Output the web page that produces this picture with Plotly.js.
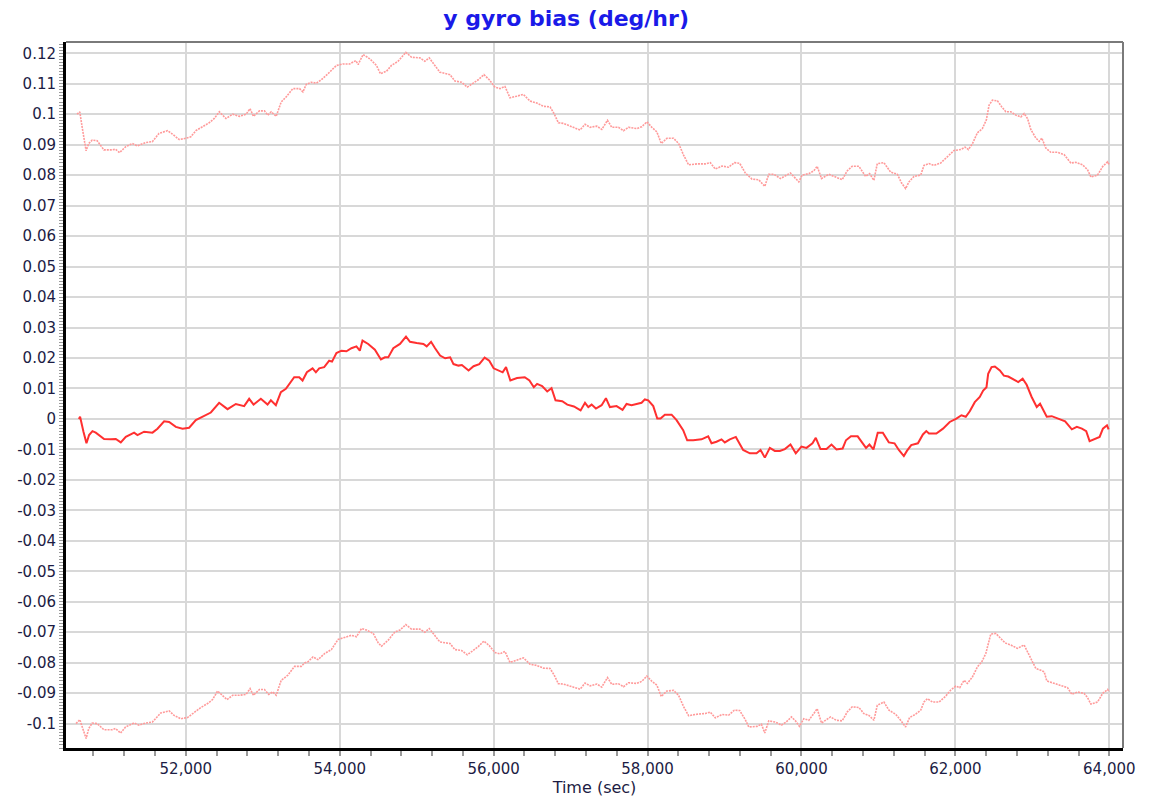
<!DOCTYPE html>
<html>
<head>
<meta charset="utf-8">
<script src="https://cdn.plot.ly/plotly-3.0.1.min.js"></script>
<style>html,body{margin:0;padding:0;background:#fff;}#chart{width:1149px;height:804px;}</style>
</head>
<body>
<div id="chart"></div>
<script>
// Time axis (sec) and bias values (deg/hr)
const midTime = [50610,50626,50670,50709,50743,50787,50830,50873,50938,51025,51090,51155,51220,51328,51372,51458,51567,51632,51718,51783,51870,51957,52043,52130,52238,52325,52433,52542,52650,52758,52823,52880,52975,53062,53105,53170,53235,53300,53408,53473,53517,53573,53647,53690,53733,53798,53863,53900,53957,54022,54087,54152,54217,54261,54296,54370,54457,54535,54587,54630,54696,54783,54861,54913,55000,55087,55130,55187,55239,55304,55370,55435,55478,55543,55587,55674,55739,55813,55883,55943,56000,56065,56117,56161,56217,56304,56404,56465,56522,56565,56630,56696,56752,56804,56891,56957,57043,57130,57187,57230,57273,57329,57403,57459,57511,57597,57675,57727,57792,57857,57922,57965,58009,58074,58126,58169,58225,58312,58377,58463,58515,58593,58701,58788,58831,58896,58961,59004,59069,59147,59199,59242,59329,59416,59468,59524,59589,59654,59719,59784,59857,59926,60000,60065,60143,60186,60247,60325,60390,60455,60535,60578,60643,60730,60796,60839,60883,60935,60991,61057,61135,61209,61265,61330,61370,61426,61513,61578,61622,61657,61752,61839,61926,62013,62078,62135,62187,62252,62317,62361,62404,62426,62470,62513,62578,62630,62687,62752,62817,62874,62926,62991,63057,63100,63143,63187,63252,63339,63426,63513,63578,63644,63700,63744,63817,63874,63917,63970,63991];
const midBias = [0.000,0.0007,-0.0042,-0.008,-0.0053,-0.004,-0.0045,-0.0053,-0.0066,-0.0067,-0.0066,-0.0077,-0.0059,-0.0045,-0.0053,-0.0042,-0.0045,-0.0032,-0.0008,-0.001,-0.0026,-0.0032,-0.0029,-0.0004,0.001,0.0021,0.0053,0.0032,0.0049,0.0042,0.0066,0.0047,0.0066,0.0047,0.0061,0.0045,0.0088,0.0099,0.0137,0.0137,0.0126,0.0153,0.0166,0.0153,0.0166,0.017,0.0191,0.0188,0.0216,0.0224,0.0222,0.0232,0.0238,0.0224,0.0257,0.0246,0.0227,0.0195,0.0202,0.0202,0.0232,0.0246,0.027,0.0253,0.0249,0.0246,0.0238,0.0253,0.0232,0.0208,0.0199,0.0202,0.018,0.0175,0.0177,0.0159,0.0173,0.018,0.0201,0.0191,0.0166,0.0159,0.0153,0.017,0.0126,0.0134,0.0137,0.0126,0.0104,0.0115,0.0108,0.009,0.0101,0.0061,0.0058,0.0047,0.0041,0.0028,0.0053,0.0039,0.0047,0.0034,0.0045,0.0068,0.0039,0.0042,0.003,0.0049,0.0045,0.0049,0.0053,0.0064,0.0061,0.0042,0.0001,0.0001,0.0014,0.0014,-0.0004,-0.0037,-0.007,-0.007,-0.0067,-0.0057,-0.008,-0.0075,-0.0067,-0.0077,-0.0067,-0.0059,-0.0084,-0.0102,-0.0113,-0.0113,-0.0102,-0.0127,-0.0095,-0.0105,-0.0105,-0.0099,-0.0084,-0.0113,-0.0091,-0.0095,-0.008,-0.0062,-0.0099,-0.0099,-0.0084,-0.01,-0.0097,-0.007,-0.0057,-0.0057,-0.008,-0.0095,-0.0084,-0.01,-0.0045,-0.0045,-0.0077,-0.008,-0.0102,-0.0122,-0.0105,-0.0086,-0.008,-0.0051,-0.004,-0.0048,-0.0048,-0.0032,-0.001,0.0001,0.0012,0.0007,0.0025,0.0055,0.0072,0.0093,0.0104,0.0148,0.017,0.0172,0.0159,0.0142,0.0139,0.0129,0.0121,0.0132,0.0112,0.0072,0.0039,0.005,0.0028,0.0007,0.0009,0.0001,-0.0008,-0.0034,-0.0026,-0.0032,-0.004,-0.0073,-0.0064,-0.0059,-0.0032,-0.0021,-0.0034];

const upperTime = [50587,50622,50652,50704,50739,50783,50848,50935,51043,51087,51139,51217,51304,51370,51478,51565,51652,51761,51826,51913,52000,52065,52130,52217,52304,52370,52435,52522,52609,52696,52783,52835,52878,52957,53022,53065,53109,53174,53239,53304,53391,53478,53522,53565,53630,53696,53761,53848,53957,54043,54130,54208,54239,54304,54390,54477,54529,54607,54672,54759,54859,54933,55041,55106,55163,55236,55301,55432,55497,55583,55657,55735,55800,55874,55943,56017,56082,56147,56212,56299,56386,56473,56560,56646,56733,56785,56841,56906,56993,57123,57188,57254,57340,57405,57479,57535,57622,57687,57752,57861,57926,57991,58056,58121,58178,58251,58338,58403,58468,58533,58642,58750,58815,58880,58967,59054,59127,59197,59270,59357,59444,59523,59575,59640,59727,59857,59965,60009,60095,60160,60204,60260,60356,60442,60529,60594,60659,60746,60833,60885,60941,60985,61071,61158,61245,61301,61353,61397,61462,61549,61592,61657,61722,61809,61896,61983,62069,62126,62169,62221,62286,62351,62403,62438,62481,62546,62603,62655,62720,62785,62850,62893,62937,62980,63045,63089,63123,63175,63240,63327,63414,63500,63565,63652,63717,63761,63847,63913,63978,64000];
const upperBias = [0.100,0.1008,0.0959,0.088,0.0904,0.0915,0.0913,0.0883,0.0883,0.0885,0.0874,0.0893,0.0904,0.0896,0.0907,0.091,0.0937,0.0946,0.0935,0.0917,0.0921,0.0926,0.0946,0.0959,0.0972,0.0986,0.1008,0.0986,0.1,0.0993,0.1,0.1018,0.0993,0.1011,0.1011,0.0997,0.1008,0.0993,0.104,0.1057,0.1084,0.1084,0.1073,0.1098,0.1105,0.1102,0.1113,0.1133,0.116,0.1165,0.1165,0.1176,0.1163,0.1196,0.1182,0.116,0.1133,0.1141,0.116,0.1174,0.1203,0.1187,0.1185,0.1174,0.1185,0.116,0.1138,0.113,0.1109,0.1105,0.1089,0.1102,0.1113,0.113,0.1113,0.1089,0.1084,0.1091,0.1054,0.1059,0.1065,0.1043,0.1037,0.1026,0.1024,0.1002,0.0972,0.097,0.0961,0.0948,0.0967,0.0957,0.0961,0.095,0.098,0.0957,0.0957,0.0946,0.0957,0.0953,0.0959,0.0975,0.0957,0.0942,0.0904,0.0921,0.0921,0.0904,0.0866,0.0834,0.0837,0.0837,0.0841,0.082,0.083,0.0826,0.0841,0.0839,0.0807,0.0787,0.0785,0.0763,0.0803,0.0803,0.0789,0.0807,0.0778,0.08,0.0805,0.0814,0.0829,0.0789,0.0803,0.0794,0.0785,0.0814,0.0829,0.0829,0.0796,0.0805,0.0783,0.0838,0.0841,0.081,0.0803,0.0774,0.0756,0.0778,0.0796,0.08,0.0832,0.0838,0.0832,0.084,0.0859,0.0881,0.0884,0.0892,0.0884,0.0903,0.0939,0.0953,0.0982,0.103,0.1046,0.1044,0.1024,0.1008,0.1008,0.0997,0.0991,0.1002,0.0986,0.095,0.0922,0.0911,0.0922,0.0889,0.0875,0.0875,0.0867,0.084,0.0842,0.0834,0.0818,0.0794,0.08,0.0828,0.0844,0.0833];

const lowerTime = [50574,50622,50661,50704,50739,50783,50848,50935,51043,51087,51152,51217,51326,51391,51478,51565,51674,51783,51848,51935,52022,52109,52196,52283,52348,52413,52478,52535,52609,52696,52783,52835,52878,52957,53022,53078,53130,53174,53239,53326,53413,53500,53543,53587,53652,53717,53804,53891,53978,54065,54152,54217,54283,54348,54435,54500,54543,54630,54717,54783,54859,54933,55041,55106,55163,55236,55301,55432,55497,55583,55657,55735,55800,55874,55943,56017,56082,56147,56212,56299,56386,56473,56560,56646,56733,56785,56841,56906,56993,57123,57188,57254,57340,57405,57479,57535,57622,57687,57752,57861,57926,57991,58056,58121,58178,58251,58338,58403,58468,58533,58642,58750,58815,58880,58967,59054,59127,59197,59270,59315,59423,59480,59523,59575,59662,59740,59800,59870,59922,59974,60030,60095,60160,60204,60260,60321,60377,60451,60529,60594,60659,60746,60811,60876,60941,60985,61071,61137,61223,61288,61353,61405,61484,61549,61592,61636,61701,61788,61874,61939,62004,62056,62113,62156,62221,62286,62343,62395,62429,62460,62525,62590,62646,62720,62807,62893,62937,62993,63045,63110,63154,63188,63262,63371,63457,63514,63587,63674,63718,63761,63848,63913,63978,64000];
const lowerBias = [-0.1,-0.0987,-0.1016,-0.1049,-0.1016,-0.0998,-0.1,-0.102,-0.102,-0.1016,-0.1031,-0.1011,-0.0998,-0.1005,-0.0998,-0.0995,-0.0965,-0.0958,-0.0973,-0.0984,-0.098,-0.0962,-0.0947,-0.0934,-0.0921,-0.0893,-0.0907,-0.0921,-0.0907,-0.0907,-0.0904,-0.0885,-0.0907,-0.0888,-0.0888,-0.0904,-0.0896,-0.0907,-0.0858,-0.0841,-0.0812,-0.0812,-0.0801,-0.0797,-0.0781,-0.079,-0.077,-0.0757,-0.0724,-0.0717,-0.071,-0.0715,-0.0688,-0.0693,-0.0704,-0.0735,-0.0746,-0.0726,-0.0699,-0.0693,-0.0675,-0.069,-0.069,-0.07,-0.0688,-0.0711,-0.0732,-0.0737,-0.0757,-0.076,-0.0774,-0.076,-0.0747,-0.0729,-0.0744,-0.0767,-0.0771,-0.0763,-0.0799,-0.0792,-0.0784,-0.0805,-0.0809,-0.0818,-0.0819,-0.084,-0.0869,-0.087,-0.0877,-0.0887,-0.0867,-0.0876,-0.087,-0.088,-0.0849,-0.0871,-0.0869,-0.0879,-0.0866,-0.0868,-0.0861,-0.0844,-0.0861,-0.0874,-0.0911,-0.0893,-0.0891,-0.0907,-0.0944,-0.0974,-0.0969,-0.0967,-0.0962,-0.0981,-0.097,-0.0972,-0.0956,-0.0957,-0.0987,-0.1011,-0.1009,-0.1002,-0.1031,-0.0991,-0.0995,-0.1005,-0.0995,-0.0978,-0.0991,-0.1009,-0.0984,-0.0989,-0.0967,-0.0951,-0.0998,-0.0989,-0.0978,-0.0989,-0.0991,-0.0962,-0.0945,-0.0947,-0.0967,-0.0973,-0.0989,-0.094,-0.0929,-0.0956,-0.0969,-0.0989,-0.1011,-0.098,-0.0969,-0.0956,-0.0929,-0.0918,-0.0929,-0.0929,-0.091,-0.089,-0.0877,-0.0882,-0.0858,-0.0868,-0.0847,-0.0814,-0.0797,-0.077,-0.0737,-0.0706,-0.0704,-0.0721,-0.0735,-0.0742,-0.0753,-0.0742,-0.0764,-0.0797,-0.0819,-0.0825,-0.083,-0.086,-0.0866,-0.0874,-0.0882,-0.0904,-0.0896,-0.0901,-0.0915,-0.0936,-0.0929,-0.0901,-0.0888,-0.0896];

const yTickVals = [0.12,0.11,0.1,0.09,0.08,0.07,0.06,0.05,0.04,0.03,0.02,0.01,0,-0.01,-0.02,-0.03,-0.04,-0.05,-0.06,-0.07,-0.08,-0.09,-0.1];
const yTickText = ['0.12','0.11','0.1','0.09','0.08','0.07','0.06','0.05','0.04','0.03','0.02','0.01','0','-0.01','-0.02','-0.03','-0.04','-0.05','-0.06','-0.07','-0.08','-0.09','-0.1'];

const chartTitle = 'y gyro bias (deg/hr)';
const xTitle = 'Time (sec)';

const tickFont = {family: 'DejaVu Sans, Verdana, sans-serif', size: 15, color: '#1c1c44'};

const traces = [
  {x: upperTime, y: upperBias, type: 'scatter', mode: 'lines', hoverinfo: 'skip',
   line: {color: '#ff9a9a', width: 1.6, dash: '2px,1px'}},
  {x: lowerTime, y: lowerBias, type: 'scatter', mode: 'lines', hoverinfo: 'skip',
   line: {color: '#ff9a9a', width: 1.6, dash: '2px,1px'}},
  {x: midTime, y: midBias, type: 'scatter', mode: 'lines',
   line: {color: '#ff3030', width: 2}}
];

const layout = {
  width: 1149, height: 804,
  paper_bgcolor: '#ffffff', plot_bgcolor: '#ffffff',
  showlegend: false,
  margin: {l: 66, r: 26, t: 42, b: 56, pad: 0},
  title: {text: chartTitle, font: {family: 'DejaVu Sans, Verdana, sans-serif', size: 22, color: '#1a1ae8', weight: 'bold'},
          xref: 'container', x: 0.4927, xanchor: 'center', yref: 'container', y: 0.977, yanchor: 'middle'},
  xaxis: {
    range: [50443, 64178], tick0: 52000, dtick: 2000, tickformat: ',d',
    showgrid: true, gridcolor: '#d8d8d8', gridwidth: 2, zeroline: false,
    showline: true, linecolor: '#000000', linewidth: 3,
    ticks: 'outside', ticklen: 5, tickwidth: 2, tickcolor: '#9a9a9a',
    minor: {tick0: 52000, dtick: 400, ticks: 'outside', ticklen: 5, tickwidth: 2, tickcolor: '#9a9a9a', showgrid: false},
    tickfont: tickFont,
    title: {text: xTitle, font: {family: 'DejaVu Sans, Verdana, sans-serif', size: 16, color: '#1c1c44'}, standoff: 5}
  },
  yaxis: {
    range: [-0.108, 0.1237], tickmode: 'array', tickvals: yTickVals, ticktext: yTickText,
    showgrid: true, gridcolor: '#d8d8d8', gridwidth: 2, zeroline: false,
    showline: true, linecolor: '#000000', linewidth: 3,
    ticks: 'outside', ticklen: 4, tickwidth: 1, tickcolor: '#9a9a9a',
    minor: {tickmode: 'linear', tick0: 0, dtick: 0.001, ticks: 'outside', ticklen: 4, tickwidth: 1, tickcolor: '#9a9a9a', showgrid: false},
    tickfont: tickFont
  },
  shapes: [
    {type: 'line', xref: 'paper', yref: 'paper', x0: 0, x1: 1, y0: 1, y1: 1, line: {color: '#7a7a7a', width: 2}},
    {type: 'line', xref: 'paper', yref: 'paper', x0: 1, x1: 1, y0: 0, y1: 1, line: {color: '#7a7a7a', width: 2}}
  ]
};

Plotly.newPlot('chart', traces, layout, {displayModeBar: false, staticPlot: true});
</script>
</body>
</html>
